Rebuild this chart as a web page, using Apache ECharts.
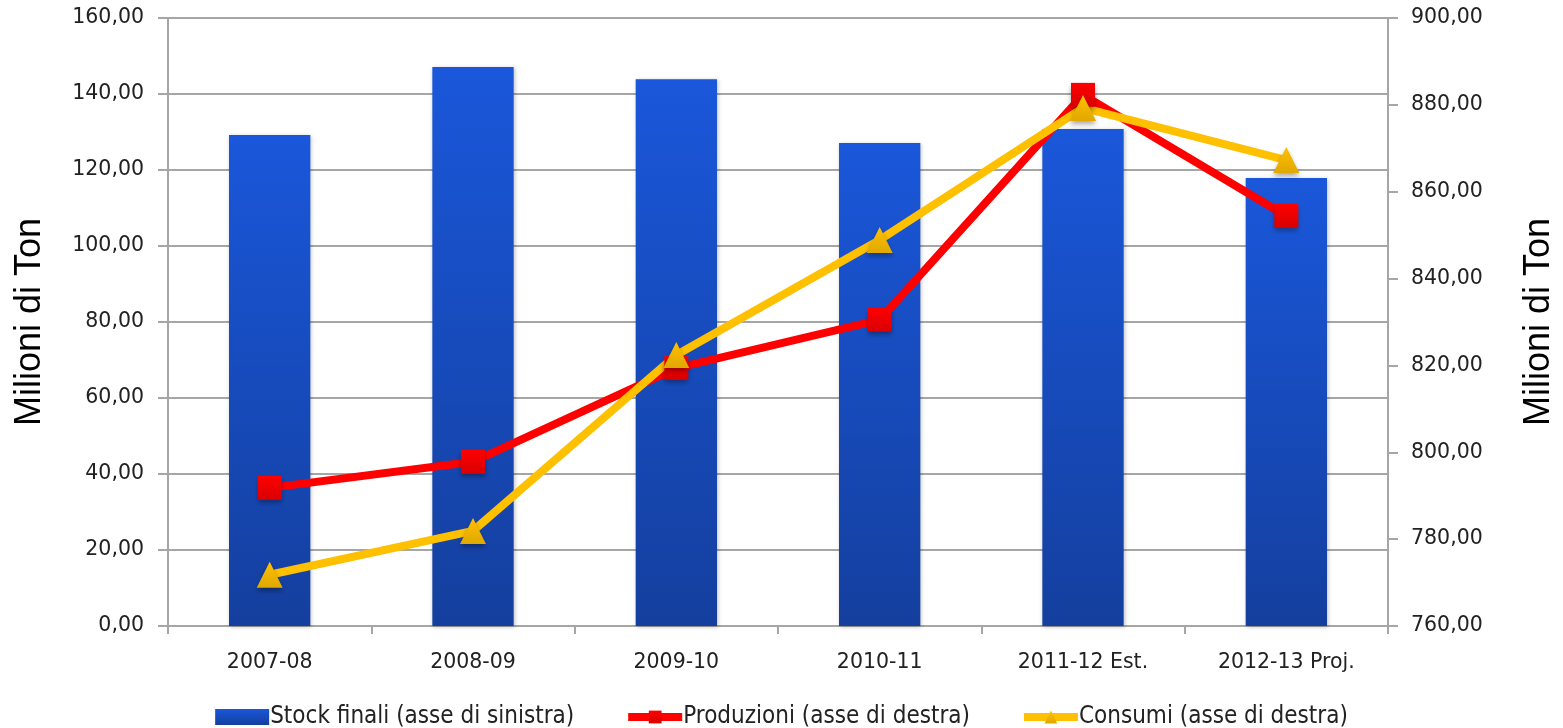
<!DOCTYPE html>
<html>
<head>
<meta charset="utf-8">
<script src="https://cdn.jsdelivr.net/npm/echarts@6/dist/echarts.min.js"></script>
<style>
html,body{margin:0;padding:0;background:#fff;}
#chart{width:1563px;height:728px;}
</style>
</head>
<body>
<div id="chart"></div>
<script>
const categories = ['2007-08', '2008-09', '2009-10', '2010-11', '2011-12 Est.', '2012-13 Proj.'];
const stockFinali = [129.2, 147.1, 143.9, 127.1, 130.8, 117.9];
const produzioni = [791.8, 797.8, 819.4, 830.5, 882.3, 854.4];
const consumi = [771.8, 781.9, 822.4, 848.9, 879.3, 867.3];
const seriesNames = ['Stock finali (asse di sinistra)', 'Produzioni (asse di destra)', 'Consumi (asse di destra)'];
const axisTitle = 'Milioni di Ton';

const fmt = v => v.toFixed(2).replace('.', ',');
const tickFont = { fontFamily: 'DejaVu Sans', fontSize: 20.5, color: '#222' };

const chart = echarts.init(document.getElementById('chart'), null, { renderer: 'canvas' });
chart.setOption({
  animation: false,
  backgroundColor: '#fff',
  grid: { left: 168, right: 175, top: 18, bottom: 102, outerBoundsMode: 'none', containLabel: false },
  legend: {
    top: 700,
    left: 'center',
    itemWidth: 54,
    itemHeight: 16,
    itemGap: 50,
    textStyle: { fontFamily: 'DejaVu Sans Condensed', fontSize: 24, color: '#222', padding: [0, 0, 0, -4] },
    data: [
      { name: seriesNames[0], icon: 'rect' },
      { name: seriesNames[1], lineStyle: { width: 8 } },
      { name: seriesNames[2], lineStyle: { width: 8 } }
    ]
  },
  xAxis: {
    type: 'category',
    data: categories,
    axisLine: { lineStyle: { color: '#a6a6a6', width: 2 } },
    axisTick: { show: true, length: 8, lineStyle: { color: '#a6a6a6', width: 2 } },
    axisLabel: Object.assign({ margin: 26 }, tickFont)
  },
  yAxis: [
    {
      type: 'value', min: 0, max: 160, interval: 20, position: 'left',
      name: axisTitle, nameLocation: 'middle', nameRotate: 90, nameGap: 120,
      nameTextStyle: { fontFamily: 'Liberation Sans', fontSize: 36, color: '#000' },
      axisLine: { show: true, lineStyle: { color: '#a6a6a6', width: 2 } },
      axisTick: { show: true, length: 10, lineStyle: { color: '#a6a6a6', width: 2 } },
      splitLine: { show: true, lineStyle: { color: '#a6a6a6', width: 2 } },
      axisLabel: Object.assign({ margin: 24, formatter: fmt }, tickFont)
    },
    {
      type: 'value', min: 760, max: 900, interval: 20, position: 'right',
      name: axisTitle, nameLocation: 'middle', nameRotate: 90, nameGap: 133,
      nameTextStyle: { fontFamily: 'Liberation Sans', fontSize: 36, color: '#000' },
      axisLine: { show: true, lineStyle: { color: '#a6a6a6', width: 2 } },
      axisTick: { show: true, length: 10, lineStyle: { color: '#a6a6a6', width: 2 } },
      splitLine: { show: false },
      axisLabel: Object.assign({ margin: 23, formatter: fmt }, tickFont)
    }
  ],
  series: [
    {
      name: seriesNames[0],
      type: 'bar',
      yAxisIndex: 0,
      barWidth: '40%',
      data: stockFinali,
      itemStyle: {
        color: new echarts.graphic.LinearGradient(0, 0, 0, 1, [
          { offset: 0, color: '#1a57da' },
          { offset: 1, color: '#143f9e' }
        ]),
        shadowColor: 'rgba(0,0,0,0.25)', shadowBlur: 4, shadowOffsetX: 1, shadowOffsetY: 1
      }
    },
    {
      name: seriesNames[1],
      type: 'line',
      yAxisIndex: 1,
      data: produzioni,
      symbol: 'rect',
      symbolSize: 24,
      lineStyle: { color: '#ff0000', width: 8 },
      itemStyle: {
        color: new echarts.graphic.LinearGradient(0, 0, 0, 1, [
          { offset: 0, color: '#ff0000' },
          { offset: 1, color: '#d80000' }
        ]),
        shadowColor: 'rgba(0,0,0,0.35)', shadowBlur: 5, shadowOffsetY: 3
      }
    },
    {
      name: seriesNames[2],
      type: 'line',
      yAxisIndex: 1,
      data: consumi,
      symbol: 'triangle',
      symbolSize: 26,
      lineStyle: { color: '#ffc000', width: 8 },
      itemStyle: {
        color: new echarts.graphic.LinearGradient(0, 0, 0, 1, [
          { offset: 0, color: '#ffc000' },
          { offset: 1, color: '#e0a800' }
        ]),
        shadowColor: 'rgba(0,0,0,0.35)', shadowBlur: 5, shadowOffsetY: 3
      }
    }
  ]
});
</script>
</body>
</html>
